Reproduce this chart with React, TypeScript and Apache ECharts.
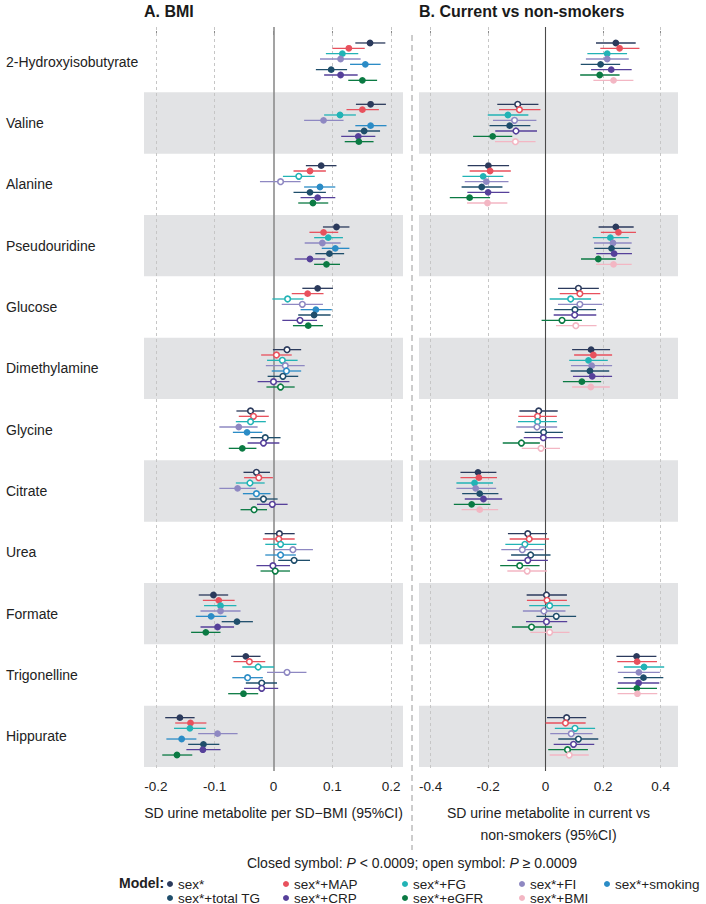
import React, { useEffect, useRef } from "react";
import * as echarts from "echarts";

const FONT = '"Liberation Sans", Arial, Helvetica, sans-serif';

const metabolites = [
  "2-Hydroxyisobutyrate", "Valine", "Alanine", "Pseudouridine", "Glucose", "Dimethylamine",
  "Glycine", "Citrate", "Urea", "Formate", "Trigonelline", "Hippurate",
];

const modelsA = ["sex*", "sex*+MAP", "sex*+FG", "sex*+FI", "sex*+smoking", "sex*+total TG", "sex*+CRP", "sex*+eGFR"];
const modelsB = ["sex*", "sex*+MAP", "sex*+FG", "sex*+FI", "sex*+total TG", "sex*+CRP", "sex*+eGFR", "sex*+BMI"];

const modelColors: Record<string, string> = {
  "sex*": "#2b3a5c",
  "sex*+MAP": "#e8515d",
  "sex*+FG": "#22b3b5",
  "sex*+FI": "#8e88c2",
  "sex*+smoking": "#2b8cc6",
  "sex*+total TG": "#1f4e6b",
  "sex*+CRP": "#56409a",
  "sex*+eGFR": "#0b7a43",
  "sex*+BMI": "#f3b6c3",
};

// Panel A: SD urine metabolite per SD-BMI (rows = metabolites, cols = modelsA)
const bmiEst = [
  [0.164, 0.128, 0.117, 0.114, 0.156, 0.098, 0.114, 0.151],
  [0.165, 0.151, 0.113, 0.085, 0.165, 0.154, 0.144, 0.145],
  [0.081, 0.062, 0.043, 0.012, 0.079, 0.062, 0.075, 0.067],
  [0.107, 0.085, 0.093, 0.083, 0.105, 0.095, 0.062, 0.090],
  [0.075, 0.058, 0.024, 0.049, 0.072, 0.069, 0.045, 0.059],
  [0.023, 0.005, 0.015, 0.020, 0.022, 0.016, 0.000, 0.012],
  [-0.039, -0.034, -0.039, -0.059, -0.045, -0.014, -0.017, -0.053],
  [-0.029, -0.025, -0.040, -0.061, -0.029, -0.017, -0.002, -0.033],
  [0.010, 0.009, 0.012, 0.033, 0.012, 0.035, -0.001, 0.003],
  [-0.102, -0.093, -0.090, -0.090, -0.106, -0.062, -0.095, -0.115],
  [-0.047, -0.041, -0.026, 0.023, -0.044, -0.020, -0.020, -0.051],
  [-0.159, -0.141, -0.142, -0.095, -0.156, -0.119, -0.120, -0.164],
];
const bmiLo = [
  [0.139, 0.100, 0.089, 0.079, 0.130, 0.072, 0.086, 0.127],
  [0.140, 0.124, 0.086, 0.052, 0.139, 0.127, 0.115, 0.121],
  [0.055, 0.034, 0.016, -0.023, 0.052, 0.034, 0.046, 0.042],
  [0.084, 0.061, 0.069, 0.053, 0.082, 0.071, 0.036, 0.069],
  [0.049, 0.031, -0.002, 0.014, 0.046, 0.042, 0.015, 0.033],
  [-0.001, -0.021, -0.011, -0.013, -0.003, -0.010, -0.027, -0.012],
  [-0.063, -0.059, -0.064, -0.092, -0.069, -0.039, -0.044, -0.076],
  [-0.051, -0.050, -0.064, -0.092, -0.052, -0.041, -0.028, -0.056],
  [-0.015, -0.018, -0.014, 0.000, -0.014, 0.008, -0.029, -0.022],
  [-0.127, -0.120, -0.118, -0.124, -0.132, -0.088, -0.124, -0.140],
  [-0.072, -0.068, -0.053, -0.011, -0.070, -0.047, -0.050, -0.077],
  [-0.184, -0.167, -0.169, -0.128, -0.182, -0.145, -0.148, -0.189],
];
const bmiHi = [
  [0.190, 0.155, 0.144, 0.148, 0.182, 0.125, 0.143, 0.176],
  [0.191, 0.179, 0.140, 0.119, 0.192, 0.181, 0.173, 0.170],
  [0.107, 0.089, 0.070, 0.046, 0.105, 0.089, 0.105, 0.093],
  [0.129, 0.110, 0.118, 0.114, 0.129, 0.120, 0.088, 0.113],
  [0.101, 0.085, 0.051, 0.084, 0.099, 0.097, 0.074, 0.084],
  [0.047, 0.031, 0.041, 0.053, 0.047, 0.042, 0.027, 0.036],
  [-0.015, -0.008, -0.013, -0.027, -0.019, 0.012, 0.010, -0.029],
  [-0.006, -0.001, -0.015, -0.030, -0.005, 0.007, 0.024, -0.011],
  [0.036, 0.036, 0.039, 0.067, 0.038, 0.062, 0.028, 0.028],
  [-0.077, -0.066, -0.063, -0.056, -0.080, -0.035, -0.067, -0.090],
  [-0.022, -0.014, 0.001, 0.056, -0.018, 0.006, 0.008, -0.026],
  [-0.134, -0.114, -0.115, -0.061, -0.131, -0.092, -0.090, -0.138],
];
// 1 = closed symbol (P < 0.0009), 0 = open symbol
const bmiClosed = [
  [1, 1, 1, 1, 1, 1, 1, 1],
  [1, 1, 1, 1, 1, 1, 1, 1],
  [1, 1, 0, 0, 1, 1, 1, 1],
  [1, 1, 1, 1, 1, 1, 1, 1],
  [1, 1, 0, 0, 1, 1, 0, 1],
  [0, 0, 0, 0, 0, 0, 0, 0],
  [0, 0, 0, 1, 1, 0, 0, 1],
  [0, 0, 0, 1, 0, 0, 0, 0],
  [0, 0, 0, 0, 0, 0, 0, 0],
  [1, 1, 1, 1, 1, 1, 1, 1],
  [1, 0, 0, 0, 0, 0, 0, 1],
  [1, 1, 1, 1, 1, 1, 1, 1],
];

// Panel B: current vs non-smokers (rows = metabolites, cols = modelsB)
const smkEst = [
  [0.244, 0.257, 0.214, 0.214, 0.191, 0.228, 0.188, 0.236],
  [-0.097, -0.091, -0.131, -0.108, -0.125, -0.103, -0.184, -0.105],
  [-0.199, -0.193, -0.217, -0.206, -0.222, -0.200, -0.264, -0.202],
  [0.244, 0.253, 0.225, 0.234, 0.229, 0.238, 0.183, 0.236],
  [0.114, 0.119, 0.087, 0.119, 0.102, 0.101, 0.057, 0.105],
  [0.158, 0.166, 0.149, 0.160, 0.154, 0.162, 0.126, 0.157],
  [-0.024, -0.028, -0.028, -0.030, -0.007, -0.008, -0.084, -0.016],
  [-0.235, -0.232, -0.247, -0.243, -0.229, -0.216, -0.257, -0.229],
  [-0.062, -0.057, -0.072, -0.081, -0.052, -0.062, -0.090, -0.064],
  [0.003, 0.005, 0.014, -0.006, 0.037, 0.003, -0.049, 0.014],
  [0.316, 0.318, 0.342, 0.324, 0.340, 0.323, 0.317, 0.319],
  [0.073, 0.069, 0.102, 0.089, 0.114, 0.097, 0.076, 0.082],
];
const smkLo = [
  [0.175, 0.190, 0.145, 0.140, 0.122, 0.158, 0.120, 0.166],
  [-0.168, -0.162, -0.201, -0.183, -0.195, -0.175, -0.252, -0.176],
  [-0.271, -0.264, -0.289, -0.281, -0.292, -0.272, -0.333, -0.273],
  [0.184, 0.192, 0.164, 0.168, 0.169, 0.176, 0.123, 0.175],
  [0.043, 0.049, 0.014, 0.043, 0.030, 0.028, -0.014, 0.036],
  [0.092, 0.099, 0.082, 0.088, 0.087, 0.095, 0.060, 0.092],
  [-0.091, -0.095, -0.096, -0.102, -0.073, -0.076, -0.149, -0.083],
  [-0.296, -0.296, -0.310, -0.310, -0.290, -0.281, -0.319, -0.292],
  [-0.131, -0.125, -0.140, -0.154, -0.120, -0.133, -0.158, -0.133],
  [-0.066, -0.065, -0.057, -0.079, -0.032, -0.068, -0.117, -0.053],
  [0.246, 0.249, 0.272, 0.251, 0.271, 0.251, 0.247, 0.250],
  [0.005, 0.000, 0.032, 0.016, 0.044, 0.028, 0.009, 0.014],
];
const smkHi = [
  [0.313, 0.326, 0.283, 0.289, 0.259, 0.299, 0.257, 0.305],
  [-0.025, -0.018, -0.060, -0.032, -0.053, -0.030, -0.116, -0.035],
  [-0.127, -0.121, -0.147, -0.129, -0.150, -0.126, -0.193, -0.133],
  [0.306, 0.314, 0.289, 0.299, 0.294, 0.300, 0.244, 0.299],
  [0.185, 0.190, 0.158, 0.197, 0.175, 0.176, 0.126, 0.177],
  [0.224, 0.231, 0.216, 0.231, 0.221, 0.231, 0.193, 0.223],
  [0.042, 0.039, 0.039, 0.040, 0.060, 0.060, -0.020, 0.050],
  [-0.171, -0.169, -0.183, -0.172, -0.164, -0.151, -0.192, -0.165],
  [0.005, 0.012, -0.001, -0.007, 0.017, 0.008, -0.021, 0.005],
  [0.074, 0.074, 0.084, 0.069, 0.106, 0.075, 0.022, 0.083],
  [0.385, 0.387, 0.412, 0.397, 0.409, 0.395, 0.387, 0.388],
  [0.141, 0.139, 0.172, 0.163, 0.183, 0.169, 0.147, 0.150],
];
const smkClosed = [
  [1, 1, 1, 1, 1, 1, 1, 1],
  [0, 0, 1, 0, 1, 0, 1, 0],
  [1, 1, 1, 1, 1, 1, 1, 1],
  [1, 1, 1, 1, 1, 1, 1, 1],
  [0, 0, 0, 0, 0, 0, 0, 0],
  [1, 1, 1, 1, 1, 1, 1, 1],
  [0, 0, 0, 0, 0, 0, 0, 0],
  [1, 1, 1, 1, 1, 1, 1, 1],
  [0, 0, 0, 0, 0, 0, 0, 0],
  [0, 0, 0, 0, 0, 0, 0, 0],
  [1, 1, 1, 1, 1, 1, 1, 1],
  [0, 0, 0, 0, 0, 0, 0, 0],
];

const tickValuesA = [-0.2, -0.1, 0, 0.1, 0.2];
const tickLabelsA = ["-0.2", "-0.1", "0", "0.1", "0.2"];
const tickValuesB = [-0.4, -0.2, 0, 0.2, 0.4];
const tickLabelsB = ["-0.4", "-0.2", "0", "0.2", "0.4"];
const shadedRows = [1, 3, 5, 7, 9, 11];

// legend layout: [name, column, row]
const legendItems: [string, number, number][] = [
  ["sex*", 0, 0], ["sex*+MAP", 1, 0], ["sex*+FG", 2, 0], ["sex*+FI", 3, 0], ["sex*+smoking", 4, 0],
  ["sex*+total TG", 0, 1], ["sex*+CRP", 1, 1], ["sex*+eGFR", 2, 1], ["sex*+BMI", 3, 1],
];
const legendLefts = [167, 283, 402, 519, 604];
const legendTops = [877, 891];

const ROW_STEP = 0.087;

function labelFor(values: number[], labels: string[]) {
  return (v: number) => {
    let best = 0;
    for (let i = 1; i < values.length; i++) {
      if (Math.abs(values[i] - v) < Math.abs(values[best] - v)) best = i;
    }
    return labels[best];
  };
}

function pointSeries(models: string[], est: number[][], lo: number[][], hi: number[][], closed: number[][], idx: number) {
  return models.map((m, k) => {
    const c = modelColors[m];
    return {
      type: "custom",
      name: m,
      xAxisIndex: idx,
      yAxisIndex: idx,
      z: 10,
      silent: true,
      itemStyle: { color: c },
      encode: { x: [0, 1, 2], y: 3 },
      data: metabolites.map((_, i) => [est[i][k], lo[i][k], hi[i][k], i + 0.5 + (k - 3.5) * ROW_STEP, closed[i][k]]),
      renderItem: (params: any, api: any) => {
        const y = api.value(3);
        const pE = api.coord([api.value(0), y]);
        const pL = api.coord([api.value(1), y]);
        const pH = api.coord([api.value(2), y]);
        const isClosed = api.value(4) === 1;
        return {
          type: "group",
          children: [
            {
              type: "line",
              shape: { x1: pL[0], y1: pL[1], x2: pH[0], y2: pH[1] },
              style: { stroke: c, lineWidth: 1.3 },
            },
            {
              type: "circle",
              shape: { cx: pE[0], cy: pE[1], r: isClosed ? 3.4 : 2.8 },
              style: isClosed
                ? { fill: c, stroke: null }
                : { fill: "#ffffff", stroke: c, lineWidth: 1.6 },
            },
          ],
        };
      },
    };
  });
}

function backgroundSeries(idx: number, ticks: number[], zeroColor: string, zeroWidth: number) {
  return [
    {
      type: "scatter",
      name: "bands" + idx,
      xAxisIndex: idx,
      yAxisIndex: idx,
      data: [],
      silent: true,
      z: 1,
      markArea: {
        silent: true,
        itemStyle: { color: "#e2e3e5" },
        label: { show: false },
        data: shadedRows.map((r) => [{ yAxis: r }, { yAxis: r + 1 }]),
      },
    },
    {
      type: "scatter",
      name: "grid" + idx,
      xAxisIndex: idx,
      yAxisIndex: idx,
      data: [],
      silent: true,
      z: 2,
      markLine: {
        silent: true,
        symbol: "none",
        label: { show: false },
        animation: false,
        data: ticks.map((t) =>
          t === 0
            ? { xAxis: t, lineStyle: { type: "solid", color: zeroColor, width: zeroWidth } }
            : { xAxis: t, lineStyle: { type: [3, 3], color: "#c6c6c6", width: 1 } }
        ),
      },
    },
  ];
}

export default function App() {
  const ref = useRef<HTMLDivElement>(null);
  useEffect(() => {
    if (!ref.current) return;
    const chart = echarts.init(ref.current, undefined, { renderer: "svg" });
    const rowCenters = metabolites.map((_, i) => i + 0.5);
    const axisCommon = (ticks: number[], labels: string[], name: string) => ({
      type: "value",
      splitLine: { show: false },
      axisLine: { show: false },
      axisTick: { show: true, customValues: ticks, length: 4, lineStyle: { color: "#8a8a8a" } },
      axisLabel: {
        customValues: ticks,
        formatter: labelFor(ticks, labels),
        margin: 8,
        fontSize: 13.5,
        color: "#222",
        fontFamily: FONT,
      },
      name,
      nameLocation: "middle",
      nameGap: 31,
      nameTextStyle: { fontSize: 14, color: "#222", fontFamily: FONT, lineHeight: 22 },
    });
    const option: any = {
      animation: false,
      backgroundColor: "#ffffff",
      textStyle: { fontFamily: FONT },
      title: [
        { text: "A. BMI", left: 144, top: 3, padding: 0, textStyle: { fontSize: 16, fontWeight: "bold", color: "#1a1a1a", fontFamily: FONT } },
        { text: "B. Current vs non-smokers", left: 419, top: 3, padding: 0, textStyle: { fontSize: 16, fontWeight: "bold", color: "#1a1a1a", fontFamily: FONT } },
      ],
      grid: [
        { left: 144, top: 27, width: 259, height: 744 },
        { left: 419, top: 27, width: 259, height: 744 },
      ],
      xAxis: [
        { gridIndex: 0, min: -0.22, max: 0.22, ...axisCommon(tickValuesA, tickLabelsA, "SD urine metabolite per SD\u2212BMI (95%CI)") },
        { gridIndex: 1, min: -0.44, max: 0.46, ...axisCommon(tickValuesB, tickLabelsB, "SD urine metabolite in current vs\nnon-smokers (95%CI)") },
      ],
      yAxis: [
        {
          gridIndex: 0,
          type: "value",
          inverse: true,
          min: -0.065,
          max: 12.065,
          splitLine: { show: false },
          axisLine: { show: false },
          axisTick: { show: false },
          axisLabel: {
            customValues: rowCenters,
            formatter: (v: number) => metabolites[Math.round(v - 0.5)],
            align: "left",
            margin: 138,
            fontSize: 14,
            color: "#222",
            fontFamily: FONT,
          },
        },
        {
          gridIndex: 1,
          type: "value",
          inverse: true,
          min: -0.065,
          max: 12.065,
          splitLine: { show: false },
          axisLine: { show: false },
          axisTick: { show: false },
          axisLabel: { show: false },
        },
      ],
      legend: legendItems.map(([n, col, row]) => ({
        orient: "horizontal",
        left: legendLefts[col],
        top: legendTops[row],
        padding: 0,
        itemGap: 0,
        itemWidth: 6,
        itemHeight: 6,
        icon: "circle",
        selectedMode: false,
        textStyle: { fontSize: 13.5, color: "#222", fontFamily: FONT, lineHeight: 12 },
        data: [{ name: n, itemStyle: { color: modelColors[n] } }],
      })),
      graphic: [
        {
          type: "line",
          silent: true,
          shape: { x1: 412, y1: 35, x2: 412, y2: 850 },
          style: { stroke: "#9a9a9a", lineWidth: 1, lineDash: [6, 4] },
        },
        {
          type: "text",
          silent: true,
          x: 412,
          y: 863,
          style: {
            text: "Closed symbol: {i|P} < 0.0009; open symbol: {i|P} \u2265 0.0009",
            fontSize: 14,
            fontFamily: FONT,
            fill: "#222",
            align: "center",
            verticalAlign: "middle",
            rich: { i: { fontStyle: "italic", fontSize: 14, fontFamily: FONT, fill: "#222" } },
          },
        },
        {
          type: "text",
          silent: true,
          x: 119,
          y: 883,
          style: {
            text: "Model:",
            fontSize: 14,
            fontWeight: "bold",
            fontFamily: FONT,
            fill: "#222",
            verticalAlign: "middle",
          },
        },
      ],
      series: [
        ...backgroundSeries(0, tickValuesA, "#8c8c8c", 1.6),
        ...backgroundSeries(1, tickValuesB, "#4a4a4a", 1.1),
        ...pointSeries(modelsA, bmiEst, bmiLo, bmiHi, bmiClosed, 0),
        ...pointSeries(modelsB, smkEst, smkLo, smkHi, smkClosed, 1),
      ],
    };
    chart.setOption(option);
    return () => chart.dispose();
  }, []);
  return <div ref={ref} style={{ position: "absolute", left: 0, top: 0, width: 706, height: 904 }} />;
}
